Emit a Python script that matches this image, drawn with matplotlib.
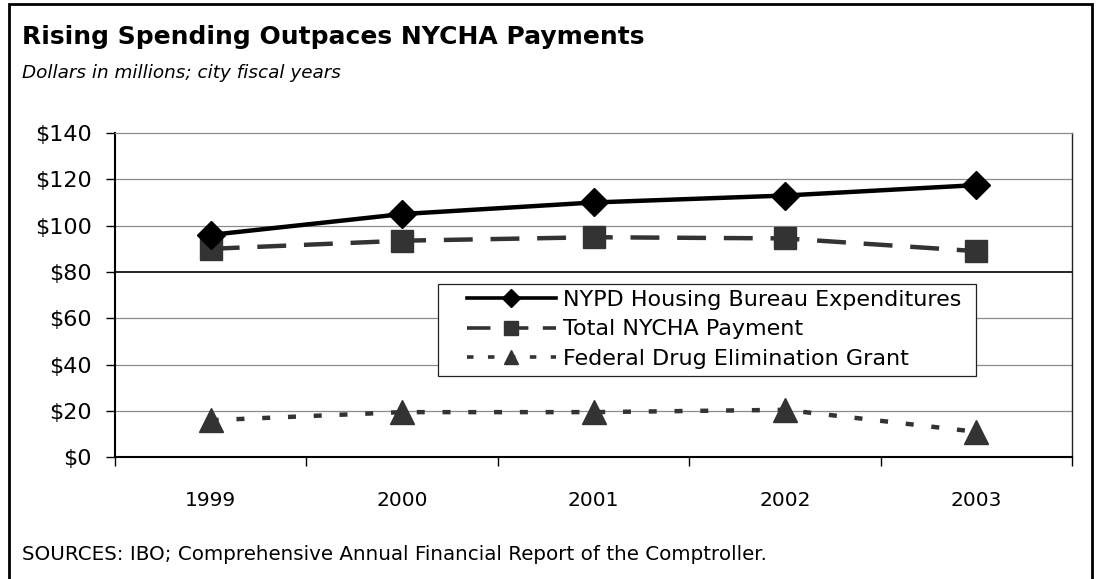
import numpy as np
import matplotlib
matplotlib.use("Agg")
import matplotlib.pyplot as plt
from matplotlib.patches import Rectangle

years = ["1999", "2000", "2001", "2002", "2003"]
nypd = [96, 105, 110, 113, 117.5]
nycha = [90, 93.5, 95, 94.5, 89]
grant = [16, 19.5, 19.5, 20.5, 11]
yticks = [0, 20, 40, 60, 80, 100, 120, 140]

W, H = 1096, 579
fig = plt.figure(figsize=(W / 100, H / 100), dpi=100)
fig.patch.set_facecolor("white")

# plot area in pixels: left 115, right 1072, top 133, bottom 457
ax = fig.add_axes([115 / W, 1 - 457.3 / H, 957 / W, 324.3 / H])
x = np.arange(len(years))

for yv in yticks[1:-1]:
    ax.axhline(yv, color="black" if yv == 80 else "#8c8c8c",
               lw=1.2 if yv == 80 else 0.9, zorder=1)

ax.plot(x, nypd, color="black", lw=3.2, marker="D", ms=14,
        label="NYPD Housing Bureau Expenditures", zorder=4)
ax.plot(x, nycha, color="#333333", lw=3.2, marker="s", ms=15.5,
        dashes=(6.5, 4), label="Total NYCHA Payment", zorder=3)
ax.plot(x, grant, color="#333333", lw=3.2, marker="^", ms=17,
        dashes=(1.8, 4), label="Federal Drug Elimination Grant", zorder=3)

ax.set_xlim(-0.5, len(years) - 0.5)
ax.set_ylim(0, 140)
ax.set_xticks(x)
ax.set_xticklabels(years)
ax.set_xticks(np.arange(len(years) + 1) - 0.5, minor=True)
ax.tick_params(axis="x", which="major", length=0, pad=24, labelsize=14.5)
ax.tick_params(axis="x", which="minor", length=6.5, width=1, direction="out")
ax.set_yticks(yticks)
ax.set_yticklabels(["$%d" % v for v in yticks])
ax.tick_params(axis="y", length=6.5, width=1, direction="out", pad=10, labelsize=16)

for s in ["left", "bottom"]:
    ax.spines[s].set_color("black")
    ax.spines[s].set_linewidth(1.5)
ax.spines["top"].set_color("#8c8c8c")
ax.spines["top"].set_linewidth(0.9)
ax.spines["right"].set_color("#222222")
ax.spines["right"].set_linewidth(1.0)

# legend box drawn separately to match its padding
ax.add_patch(Rectangle(((438 - 115) / 957, (457.3 - 376) / 324.3),
                       (976 - 438) / 957, (376 - 284) / 324.3,
                       transform=ax.transAxes, facecolor="white",
                       edgecolor="#222222", lw=0.9, zorder=5))
leg = ax.legend(loc="upper left",
                bbox_to_anchor=((467 - 115) / 957, (457.3 - 290) / 324.3),
                fontsize=16, handlelength=4.0, handletextpad=0.3,
                borderpad=0, borderaxespad=0, labelspacing=0.42,
                frameon=False, markerscale=0.62)
leg.set_zorder(6)
for ln in leg.get_lines():
    ln.set_linewidth(2.6)

fig.text(22 / W, 1 - 37 / H, "Rising Spending Outpaces NYCHA Payments",
         fontsize=18, fontweight="bold", va="center", ha="left")
fig.text(22 / W, 1 - 73 / H, "Dollars in millions; city fiscal years",
         fontsize=13.2, style="italic", va="center", ha="left")
fig.text(22 / W, 1 - 555 / H,
         "SOURCES: IBO; Comprehensive Annual Financial Report of the Comptroller.",
         fontsize=14.3, va="center", ha="left")

fig.add_artist(Rectangle((9 / W, -0.05), 1083 / W, 1.05 - 4 / H,
                         transform=fig.transFigure, fill=False,
                         edgecolor="black", lw=2))

fig.savefig("out.png", dpi=100)
